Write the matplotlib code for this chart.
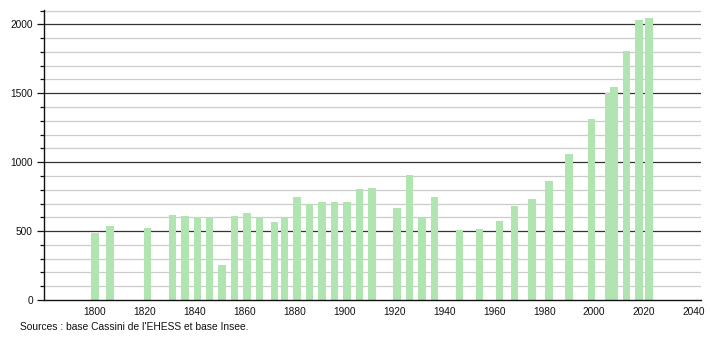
import matplotlib
matplotlib.use("Agg")
import matplotlib.pyplot as plt
from matplotlib.ticker import MultipleLocator

plt.rcParams['font.family'] = ['Liberation Sans', 'DejaVu Sans']

years = [1800, 1806, 1821, 1831, 1836, 1841, 1846, 1851, 1856, 1861, 1866,
         1872, 1876, 1881, 1886, 1891, 1896, 1901, 1906, 1911, 1921, 1926,
         1931, 1936, 1946, 1954, 1962, 1968, 1975, 1982, 1990, 1999, 2006,
         2008, 2013, 2018, 2022]
population = [488, 537, 522, 617, 609, 602, 602, 254, 612, 633, 593,
              568, 593, 747, 696, 711, 711, 711, 805, 815, 667, 907,
              593, 747, 508, 515, 573, 682, 730, 861, 1059, 1313, 1500,
              1543, 1807, 2031, 2046]
xticks = list(range(1800, 2041, 20))
yticks = [0, 500, 1000, 1500, 2000]
source = "Sources : base Cassini de l'EHESS et base Insee."

fig = plt.figure(figsize=(7.1, 3.4), dpi=100)
ax = fig.add_axes([44/710, 1 - 300/340, (701 - 44)/710, 290/340])

ax.set_xlim(1779.6, 2042.8)
ax.set_ylim(0, 2104)

# gridlines
for v in range(100, 2101, 100):
    if v % 500 == 0:
        ax.axhline(v, color='#333333', lw=0.9, zorder=1)
    else:
        ax.axhline(v, color='#cccccc', lw=0.9, zorder=1)

ax.bar(years, population, width=3.0, color='#b0e4b0', zorder=2, linewidth=0)

ax.set_xticks(xticks)
ax.set_yticks(yticks)
ax.yaxis.set_minor_locator(MultipleLocator(100))
ax.tick_params(axis='x', length=0, labelsize=7.3, pad=5, colors='#111111')
ax.tick_params(axis='y', which='major', length=5, width=0.9, labelsize=7.3,
               colors='#111111', pad=3)
ax.tick_params(axis='y', which='minor', length=3, width=0.9, colors='#111111')

for s in ['top', 'right']:
    ax.spines[s].set_visible(False)
ax.spines['left'].set_color('#111111')
ax.spines['bottom'].set_color('#111111')
ax.spines['left'].set_linewidth(1.0)
ax.spines['bottom'].set_linewidth(1.0)

fig.text(20/710, 1 - 327/340, source, fontsize=7.4, va='center', ha='left',
         color='#111111')

fig.savefig('out.png', dpi=100)
